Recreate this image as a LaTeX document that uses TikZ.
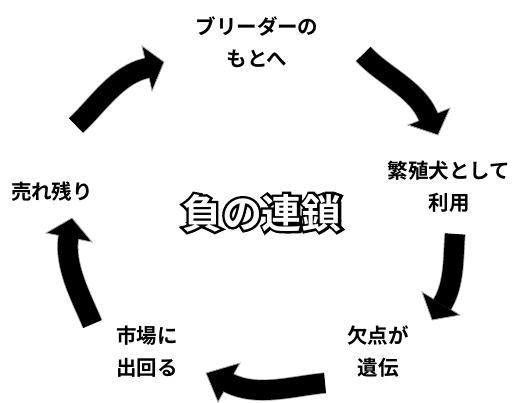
\documentclass[tikz,border=0pt]{standalone}
\usepackage{fontspec}
\newfontfamily\jp{Noto Sans CJK JP Bold}
\newfontfamily\jpstroke{Noto Sans CJK JP Bold}[FakeBold=12]
\newcommand\outlinetext[1]{%
  \rlap{\jpstroke\textcolor{black}{#1}}\textcolor{white}{#1}}
\begin{document}
\begin{tikzpicture}[x=1pt,y=-1pt,
  lbl/.style={font=\jp\fontsize{20.5}{32}\selectfont,align=center,inner sep=0pt},
  bodyout/.style={draw=gray!70,line width=21.4pt},
  bodyin/.style={draw=black,line width=19.8pt},
  headst/.style={fill=black,draw=gray!70,line width=0.8pt,line join=miter}]
\useasboundingbox (0,0) rectangle (515,403);
% labels
\node[lbl] (breeder) at (257,42) {ブリーダーの\\もとへ};
\node[lbl] (hanshoku) at (449,187) {繁殖犬として\\利用};
\node[lbl] (ketten) at (378,352) {欠点が\\遺伝};
\node[lbl] (shijou) at (147,352) {市場に\\出回る};
\node[lbl] (urenokori) at (52,192) {売れ残り};
\node[font=\jp\fontsize{40}{40}\selectfont,inner sep=0pt] (title) at (262,213) {\outlinetext{負の連鎖}};
% arrow coordinates
\coordinate (a1t) at (76,125.5);  \coordinate (a1n) at (147,68);
\coordinate (a2t) at (363.3,54);  \coordinate (a2n) at (428,116);
\coordinate (a3t) at (455,234);   \coordinate (a3n) at (443,303);
\coordinate (a4t) at (325,383);   \coordinate (a4n) at (229,383);
\coordinate (a5t) at (92.5,324);  \coordinate (a5n) at (68.5,236.5);
% outlines of bodies
\draw[bodyout] (a1t) .. controls +(22.6,-21.1) and +(-30.3,6.7) .. (a1n) -- +(2,-0.45);
\draw[bodyout] (a2t) .. controls +(20.4,22) and +(-12,-27.6) .. (a2n) -- +(0.8,1.85);
\draw[bodyout] (a3t) .. controls +(-1.8,23) and +(11.5,-19.9) .. (a3n) -- +(-1,1.7);
\draw[bodyout] (a4t) .. controls +(-31.9,2.9) and +(28.5,14.4) .. (a4n) -- +(-1.8,-0.9);
\draw[bodyout] (a5t) .. controls +(-11.7,-27.6) and +(-4.5,29.7) .. (a5n) -- +(0.3,-2);
% heads
\draw[headst] (142,46) -- (164,62) -- (152,91) -- cycle;
\draw[headst] (450,108) -- (438,135) -- (408,125) -- cycle;
\draw[headst] (460,315) -- (432,320) -- (422,292) -- cycle;
\draw[headst] (240,363) -- (206,373) -- (218,402) -- cycle;
\draw[headst] (92,242) -- (72,218) -- (46,233) -- cycle;
% bodies
\draw[bodyin] (a1t) .. controls +(22.6,-21.1) and +(-30.3,6.7) .. (a1n) -- +(2,-0.45);
\draw[bodyin] (a2t) .. controls +(20.4,22) and +(-12,-27.6) .. (a2n) -- +(0.8,1.85);
\draw[bodyin] (a3t) .. controls +(-1.8,23) and +(11.5,-19.9) .. (a3n) -- +(-1,1.7);
\draw[bodyin] (a4t) .. controls +(-31.9,2.9) and +(28.5,14.4) .. (a4n) -- +(-1.8,-0.9);
\draw[bodyin] (a5t) .. controls +(-11.7,-27.6) and +(-4.5,29.7) .. (a5n) -- +(0.3,-2);
\end{tikzpicture}
\end{document}
